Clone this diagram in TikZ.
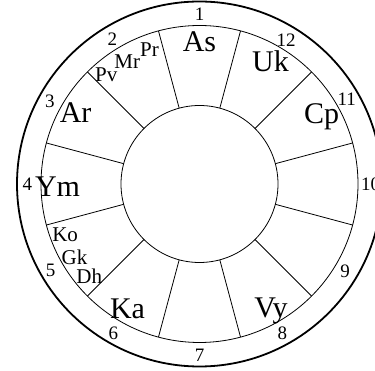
\documentclass[tikz,border=0pt]{standalone}
\usepackage{fontspec}
\setmainfont{Liberation Serif}
\usetikzlibrary{positioning}

\begin{document}
\begin{tikzpicture}[
  rim/.style={line width=1.8pt},
  ring/.style={line width=0.8pt},
  spoke/.style={line width=0.8pt},
  housenum/.style={inner sep=0pt,text depth=0pt,font=\fontsize{19}{19}\selectfont},
  sign/.style={inner sep=0pt,text depth=0pt,font=\fontsize{30}{30}\selectfont},
  planet/.style={inner sep=0pt,text depth=0pt,font=\fontsize{21}{21}\selectfont}
]
\useasboundingbox (-199.5pt,-187pt) rectangle (175.5pt,184pt);

% Circles
\coordinate (c) at (0,0);
\draw[rim] (c) circle[radius=182.5pt];
\draw[ring] (c) circle[radius=158.5pt];
\draw[ring] (c) circle[radius=78.5pt];

% Spokes between the houses
\draw[spoke] (15:78.5pt) -- (15:158.5pt);
\draw[spoke] (45:78.5pt) -- (45:158.5pt);
\draw[spoke] (75:78.5pt) -- (75:158.5pt);
\draw[spoke] (105:78.5pt) -- (105:158.5pt);
\draw[spoke] (135:78.5pt) -- (135:158.5pt);
\draw[spoke] (165:78.5pt) -- (165:158.5pt);
\draw[spoke] (195:78.5pt) -- (195:158.5pt);
\draw[spoke] (225:78.5pt) -- (225:158.5pt);
\draw[spoke] (255:78.5pt) -- (255:158.5pt);
\draw[spoke] (285:78.5pt) -- (285:158.5pt);
\draw[spoke] (315:78.5pt) -- (315:158.5pt);
\draw[spoke] (345:78.5pt) -- (345:158.5pt);

% House numbers
\node[housenum] (h1) at (90:170pt) {1};
\node[housenum] (h2) at (121:169pt) {2};
\node[housenum] (h3) at (151:171pt) {3};
\node[housenum] (h4) at (180:172pt) {4};
\node[housenum] (h5) at (210:172pt) {5};
\node[housenum] (h6) at (240:172pt) {6};
\node[housenum] (h7) at (270:171pt) {7};
\node[housenum] (h8) at (299:171pt) {8};
\node[housenum] (h9) at (329:170pt) {9};
\node[housenum] (h10) at (0:171pt) {10};
\node[housenum] (h11) at (30:170pt) {11};
\node[housenum] (h12) at (59:168pt) {12};

% Signs
\node[sign] (as) at (90:142pt) {As};
\node[sign] (uk) at (60:142pt) {Uk};
\node[sign] (cp) at (30:141pt) {Cp};
\node[sign] (ar) at (150:143pt) {Ar};
\node[sign] (ym) at (181:142pt) {Ym};
\node[sign] (ka) at (240:144pt) {Ka};
\node[sign] (vy) at (300:143pt) {Vy};

% Planets
\node[planet] (pr) at (110.5:143pt) {Pr};
\node[planet] (mr) at (120.5:142.5pt) {Mr};
\node[planet] (pv) at (130.5:143.5pt) {Pv};
\node[planet] (ko) at (200.5:143.5pt) {Ko};
\node[planet] (gk) at (210.5:145pt) {Gk};
\node[planet] (dh) at (220:144pt) {Dh};

\end{tikzpicture}
\end{document}
